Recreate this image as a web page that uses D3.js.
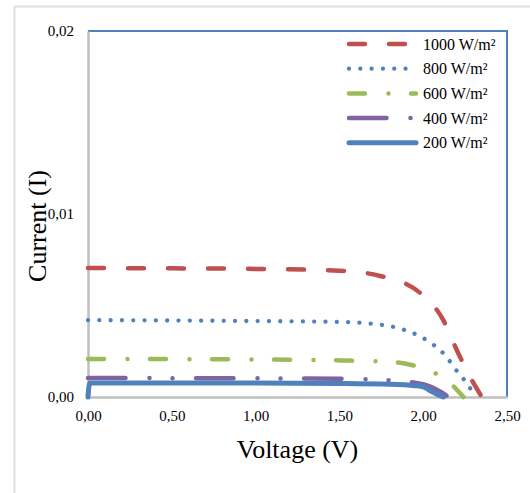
<!DOCTYPE html>
<html>
<head>
<meta charset="utf-8">
<script src="https://cdn.jsdelivr.net/npm/d3@7"></script>
<style>
  body { margin: 0; background: #fff; }
  text { font-family: "Liberation Serif", "Times New Roman", serif; fill: #000; }
</style>
</head>
<body>
<div id="chart"></div>
<script>
// series names, in legend order
var seriesNames = ["1000 W/m²", "800 W/m²", "600 W/m²", "400 W/m²", "200 W/m²"];

// voltage / current pairs
var v1000 = [0, 0.5, 1.0, 1.5, 1.75, 1.98, 2.12, 2.20, 2.28, 2.35];
var i1000 = [0.00705, 0.00703, 0.00700, 0.00690, 0.00660, 0.00570, 0.00420, 0.00257, 0.00109, 0];

var v800 = [0, 0.5, 1.0, 1.5, 1.7, 1.89, 2.02, 2.13, 2.21, 2.26, 2.31];
var i800 = [0.00420, 0.00418, 0.00415, 0.00410, 0.00400, 0.00366, 0.00311, 0.00229, 0.00131, 0.00076, 0];

var v600 = [0, 0.5, 1.0, 1.5, 1.8, 1.93, 2.05, 2.12, 2.19, 2.24];
var i600 = [0.00208, 0.00207, 0.00205, 0.00200, 0.00192, 0.00175, 0.00140, 0.00104, 0.00050, 0];

var v400 = [0, 0.5, 1.0, 1.5, 1.82, 2.0, 2.1, 2.15];
var i400 = [0.00104, 0.00103, 0.00102, 0.00100, 0.00090, 0.00070, 0.00030, 0];

var v200 = [0, 0.01, 0.5, 1.0, 1.5, 1.8, 1.95, 2.0, 2.05, 2.12];
var i200 = [0, 0.00077, 0.00077, 0.00076, 0.00074, 0.00070, 0.00062, 0.00055, 0.00030, 0];

var xTicks = [0, 0.5, 1.0, 1.5, 2.0, 2.5];
var yTicks = [0, 0.01, 0.02];

var W = 530, H = 493;
var margin = { top: 31, right: 23, bottom: 96, left: 88 };
var width = W - margin.left - margin.right,
    height = H - margin.top - margin.bottom;

var svg = d3.select("#chart").append("svg")
  .attr("width", W)
  .attr("height", H);

// outer chart frame
svg.append("rect")
  .attr("x", 14.5).attr("y", 6.5)
  .attr("width", 540).attr("height", 520)
  .attr("fill", "#fff")
  .attr("stroke", "#e0e0e0")
  .attr("stroke-width", 2);

var g = svg.append("g")
  .attr("transform", "translate(" + margin.left + "," + margin.top + ")");

var x = d3.scaleLinear().domain([0, 2.5]).range([0, width]);
var y = d3.scaleLinear().domain([0, 0.02]).range([height, 0]);

var fmt = function (d) { return d3.format(".2f")(d).replace(".", ","); };

// plot border: top and right in blue
g.append("path")
  .attr("d", "M0,0H" + width + "V" + height)
  .attr("fill", "none")
  .attr("stroke", "#4f81bd")
  .attr("stroke-width", 2);

var xAxis = g.append("g")
  .attr("transform", "translate(0," + height + ")")
  .call(d3.axisBottom(x).tickValues(xTicks).tickFormat(fmt).tickSize(0).tickPadding(13));
var yAxis = g.append("g")
  .call(d3.axisLeft(y).tickValues(yTicks).tickFormat(fmt).tickSize(0).tickPadding(14));

[xAxis, yAxis].forEach(function (a) {
  a.select(".domain").attr("stroke", "#bfbfbf").attr("stroke-width", 2.5);
  a.selectAll("text")
    .style("font-family", "'Liberation Serif', serif")
    .style("font-size", "15px")
    .attr("fill", "#000");
});

var data = [
  { name: seriesNames[0], v: v1000, i: i1000, color: "#c0504d", width: 4.5, dash: "16,24" },
  { name: seriesNames[1], v: v800, i: i800, color: "#4f81bd", width: 4.3, dash: "0.01,11.3" },
  { name: seriesNames[2], v: v600, i: i600, color: "#9bbb59", width: 4.5, dash: "16,23.5,0.01,22.5" },
  { name: seriesNames[3], v: v400, i: i400, color: "#8064a2", width: 4.5, dash: "37.5,24,0.01,23,0.01,23.5" },
  { name: seriesNames[4], v: v200, i: i200, color: "#4f81bd", width: 5, dash: null }
];

var line = d3.line()
  .x(function (d) { return x(d[0]); })
  .y(function (d) { return y(d[1]); })
  .curve(d3.curveMonotoneX);

data.forEach(function (s) {
  var pts = s.v.map(function (v, k) { return [v, s.i[k]]; });
  g.append("path")
    .attr("d", line(pts))
    .attr("fill", "none")
    .attr("stroke", s.color)
    .attr("stroke-width", s.width)
    .attr("stroke-linecap", "round")
    .attr("stroke-linejoin", "round")
    .attr("stroke-dasharray", s.dash);
});

// legend
var legend = svg.append("g").attr("transform", "translate(347,44)");
data.forEach(function (s, k) {
  var row = legend.append("g").attr("transform", "translate(0," + (k * 24.7) + ")");
  row.append("line")
    .attr("x1", 2).attr("x2", 69)
    .attr("stroke", s.color)
    .attr("stroke-width", s.width)
    .attr("stroke-linecap", "round")
    .attr("stroke-dasharray", s.dash);
  row.append("text")
    .attr("x", 76).attr("y", 5.5)
    .style("font-family", "'Liberation Serif', serif")
    .style("font-size", "16px")
    .text(s.name);
});

// axis titles
svg.append("text")
  .attr("x", margin.left + width / 2)
  .attr("y", 458)
  .attr("text-anchor", "middle")
  .style("font-size", "26px")
  .text("Voltage (V)");

svg.append("text")
  .attr("transform", "translate(46,226) rotate(-90)")
  .attr("text-anchor", "middle")
  .style("font-size", "26px")
  .text("Current (I)");
</script>
</body>
</html>
